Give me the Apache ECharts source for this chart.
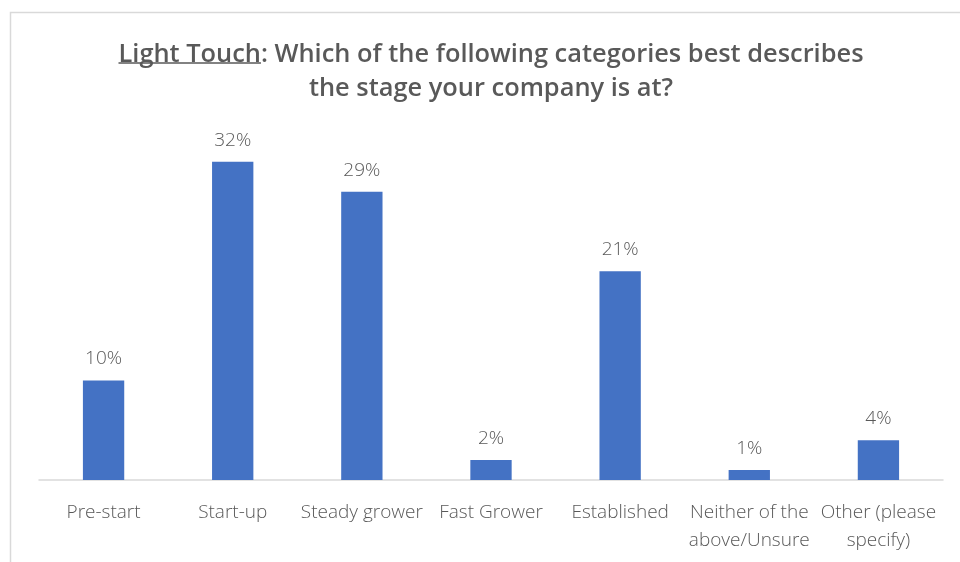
<!DOCTYPE html>
<html>
<head>
<meta charset="utf-8">
<style>
  html, body { margin: 0; padding: 0; background: #fff; }
  #chart { width: 960px; height: 562px; }
</style>
<script src="https://cdn.jsdelivr.net/npm/echarts@6/dist/echarts.min.js"></script>
</head>
<body>
<div id="chart"></div>
<script>
// Survey responses: company stage (share of respondents, %)
const categories = [
  'Pre-start',
  'Start-up',
  'Steady grower',
  'Fast Grower',
  'Established',
  'Neither of the\nabove/Unsure',
  'Other (please\nspecify)'
];
const shares = [10, 32, 29, 2, 21, 1, 4];

const titleLead = 'Light Touch';
const titleRest = ': Which of the following categories best describes';
const titleLine2 = 'the stage your company is at?';

const TEXT = '#595959';
const TITLE_FONT = '600 25.4px "Open Sans"';
const BODY_FAMILY = '"Open Sans"';

// measure title pieces so the underline sits exactly under the lead words
function measure(str, font) {
  const c = document.createElement('canvas').getContext('2d');
  c.font = font;
  return c.measureText(str).width;
}
const centerX = 491;
const leadW = measure(titleLead, TITLE_FONT);
const line1W = measure(titleLead + titleRest, TITLE_FONT);
const line1Left = centerX - line1W / 2;

const chart = echarts.init(document.getElementById('chart'));
chart.setOption({
  animation: false,
  grid: { left: 39, right: 17, top: 132, bottom: 82, containLabel: false },
  xAxis: {
    type: 'category',
    data: categories,
    axisTick: { show: false },
    axisLine: { lineStyle: { color: '#d9d9d9', width: 1.5 } },
    axisLabel: {
      interval: 0,
      margin: 19,
      color: TEXT,
      fontFamily: BODY_FAMILY,
      fontWeight: 300,
      fontSize: 19,
      lineHeight: 28
    }
  },
  yAxis: {
    type: 'value',
    min: 0,
    max: 35,
    show: false,
    splitLine: { show: false }
  },
  series: [{
    type: 'bar',
    data: shares,
    barWidth: '32%',
    itemStyle: { color: '#4472c4' },
    label: {
      show: true,
      position: 'top',
      distance: 12,
      formatter: '{c}%',
      color: TEXT,
      fontFamily: BODY_FAMILY,
      fontWeight: 300,
      fontSize: 19
    }
  }],
  graphic: [
    {
      type: 'rect',
      shape: { x: 10.5, y: 12.5, width: 980, height: 600 },
      style: { fill: 'none', stroke: '#d9d9d9', lineWidth: 1.5 },
      silent: true
    },
    {
      type: 'text',
      x: line1Left,
      y: 67,
      style: {
        text: titleLead + titleRest,
        font: TITLE_FONT,
        fill: TEXT,
        textAlign: 'left',
        textVerticalAlign: 'bottom'
      }
    },
    {
      type: 'line',
      shape: { x1: line1Left, y1: 63, x2: line1Left + leadW, y2: 63 },
      style: { stroke: TEXT, lineWidth: 1.5 }
    },
    {
      type: 'text',
      x: centerX,
      y: 101,
      style: {
        text: titleLine2,
        font: TITLE_FONT,
        fill: TEXT,
        textAlign: 'center',
        textVerticalAlign: 'bottom'
      }
    }
  ]
});
</script>
</body>
</html>
